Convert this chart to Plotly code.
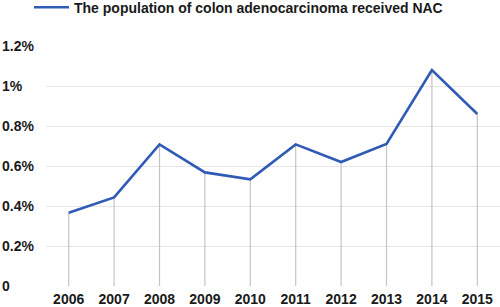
import plotly.graph_objects as go

years = ["2006", "2007", "2008", "2009", "2010", "2011", "2012", "2013", "2014", "2015"]
rates = [0.366, 0.443, 0.708, 0.568, 0.533, 0.708, 0.620, 0.710, 1.080, 0.860]
series_name = "The population of colon adenocarcinoma received NAC"
y_ticks = [0, 0.2, 0.4, 0.6, 0.8, 1.0, 1.2]
y_tick_labels = ["0", "0.2%", "0.4%", "0.6%", "0.8%", "1%", "1.2%"]

FONT = "Liberation Sans, Arial, sans-serif"
BLUE = "#2f5bb5"

fig = go.Figure()
# drop lines from each point to the baseline
fig.add_trace(go.Scatter(
    x=years, y=rates, mode="lines", line=dict(width=0, color="rgba(0,0,0,0)"),
    error_y=dict(type="data", symmetric=False, array=[0] * len(rates), arrayminus=rates,
                 color="#c4c4c4", thickness=1.2, width=0),
    showlegend=False, hoverinfo="skip"))
fig.add_trace(go.Scatter(
    x=years, y=rates, mode="lines", name=series_name,
    line=dict(color=BLUE, width=2.6)))

for v, lab in zip(y_ticks, y_tick_labels):
    fig.add_annotation(x=-0.1013, xref="paper", y=v, yref="y", text=lab, showarrow=False,
                       xanchor="left", yanchor="middle",
                       font=dict(family=FONT, size=14, color="#1a1a1a", weight="bold"))

fig.update_layout(
    width=500, height=307,
    margin=dict(l=46, r=0, t=46, b=21, autoexpand=False),
    paper_bgcolor="white", plot_bgcolor="white",
    font=dict(family=FONT, size=14, color="#1a1a1a"),
    showlegend=True,
    legend=dict(orientation="h", xref="container", yref="container", x=0.058, y=0.975,
                xanchor="left", yanchor="middle",
                font=dict(family=FONT, size=14, color="#1a1a1a", weight="bold"),
                itemwidth=35, bgcolor="rgba(0,0,0,0)"),
    xaxis=dict(type="category", range=[-0.5, 9.5], showgrid=False, zeroline=False,
               showline=False, ticks="", automargin=False,
               tickfont=dict(family=FONT, size=14, color="#1a1a1a", weight="bold"),
               ticklabelstandoff=3),
    yaxis=dict(range=[0, 1.2], showgrid=True, gridcolor="#e6e6e6", gridwidth=1,
               tickvals=y_ticks, showticklabels=False, zeroline=False, showline=False,
               automargin=False),
)

fig.write_html("out.html", config={"displayModeBar": False},
               post_script="document.body.style.margin='0';")
